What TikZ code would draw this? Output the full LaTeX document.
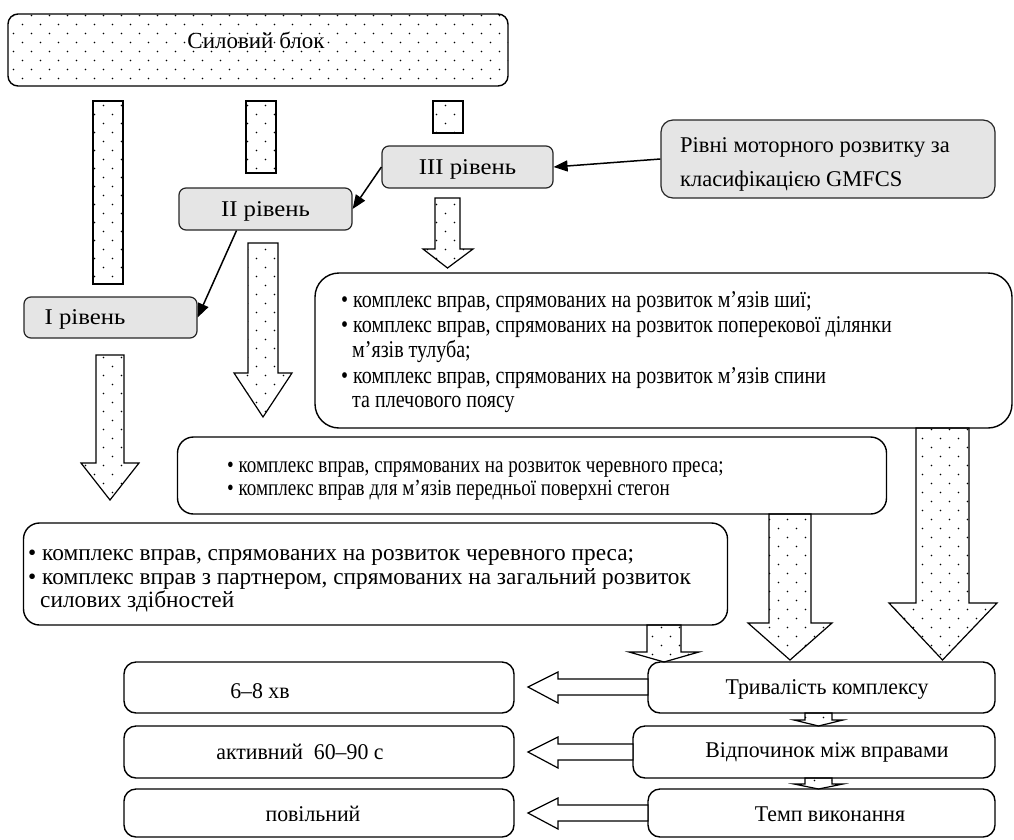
\documentclass[tikz,border=0pt]{standalone}
\usepackage{fontspec}
\setmainfont{Liberation Serif}
\newfontfamily\condfont[FakeStretch=0.83]{Liberation Serif}
\newfontfamily\condfontb[FakeStretch=0.835]{Liberation Serif}
\newfontfamily\midfont[FakeStretch=0.97]{Liberation Serif}
\newfontfamily\widefont[FakeStretch=1.1]{Liberation Serif}
\usetikzlibrary{patterns,arrows.meta}
\pgfdeclarepatternformonly{dotgrid}{\pgfpoint{-1pt}{-1pt}}{\pgfpoint{19pt}{19pt}}{\pgfpoint{18pt}{18pt}}{%
 \pgfpathcircle{\pgfpoint{4.5pt}{4.5pt}}{0.85pt}%
 \pgfpathcircle{\pgfpoint{13.5pt}{13.5pt}}{0.85pt}%
 \pgfusepath{fill}}
\newcommand\dnarrow[7]{% xl xr ytop yhs hl hr ytip
 \draw[dotfill] (#1,#3) -- (#2,#3) -- (#2,#4) -- (#6,#4) -- ({(#1+#2)/2},#7) -- (#5,#4) -- (#1,#4) -- cycle;}
\newcommand\lfarrow[7]{% xr xhs ytop ybot ht hb xtip
 \draw[hollow] (#1,#3) -- (#2,#3) -- (#2,#5) -- (#7,{(#3+#4)/2}) -- (#2,#6) -- (#2,#4) -- (#1,#4) -- cycle;}
\begin{document}
\begin{tikzpicture}[x=1pt,y=-1pt,
 box/.style={draw, line width=1.4pt, rounded corners=12pt, inner sep=0pt},
 lvl/.style={draw=black!85, line width=1.2pt, fill=black!10, rounded corners=7pt, inner sep=0pt},
 dotfill/.style={draw, line width=1.2pt, pattern=dotgrid},
 hollow/.style={draw, line width=1.2pt, fill=white},
 thin/.style={line width=1.5pt, -{Triangle[length=14pt,width=11pt]}},
 txt/.style={inner sep=0pt, font=\fontsize{23}{26}\selectfont},
 ctxt/.style={inner sep=0pt, anchor=base west, font=\fontsize{23}{26}\condfont},
 dtxt/.style={inner sep=0pt, anchor=base west, font=\fontsize{24}{26}\condfontb},
 ntxt/.style={inner sep=0pt, anchor=base west, font=\fontsize{23.3}{26}\selectfont},
 gtxt/.style={inner sep=0pt, anchor=base west, font=\fontsize{22.5}{26}\selectfont},
 btxt/.style={inner sep=0pt, font=\fontsize{22.5}{26}\midfont},
 ltxt/.style={inner sep=0pt, font=\fontsize{22.5}{26}\widefont}]
\useasboundingbox (0,0) rectangle (1014,839);
% top block
\node[box, rounded corners=10pt, pattern=dotgrid, minimum width=500pt, minimum height=72pt] (top) at (258,50) {};
\node[txt] (toptxt) at (256,40) {Силовий блок};
% stripes
\draw[dotfill] (93,101) rectangle (123,284);
\draw[dotfill] (246,101) rectangle (276,173);
\draw[dotfill] (433,101) rectangle (463,133);
% level boxes
\node[lvl, minimum width=171pt, minimum height=42pt] (l3) at (467.5,167) {};
\node[ltxt] (l3t) at (467.5,169) {III рівень};
\node[lvl, minimum width=173pt, minimum height=42pt] (l2) at (265.5,209) {};
\node[ltxt] (l2t) at (265.5,211) {II рівень};
\node[lvl, minimum width=173pt, minimum height=41pt] (l1) at (110.5,317.5) {};
\node[ltxt] (l1t) at (85,319.5) {I рівень};
\node[lvl, rounded corners=12pt, minimum width=334pt, minimum height=78pt] (gm) at (828,159) {};
\node[gtxt] (gmt1) at (680,152) {Рівні моторного розвитку за};
\node[gtxt] (gmt2) at (680,186) {класифікацією GMFCS};
% thin arrows
\draw[thin] (gm.west) -- (l3.east);
\draw[thin] (l3.west) -- (l2.east);
\draw[thin] ([xshift=-29pt]l2.south) -- (l1.east);
% block arrows from levels
\dnarrow{96}{124}{355}{463}{81}{139}{500}
\dnarrow{248}{278}{243}{373}{234}{292}{417}
\dnarrow{435}{460}{198}{249}{423}{473}{268}
% text box 3
\node[box, rounded corners=24pt, minimum width=697pt, minimum height=155pt] (b3) at (663.5,350.5) {};
\node[dtxt] (b3a) at (341,307) {• комплекс вправ, спрямованих на розвиток м’язів шиї;};
\node[dtxt] (b3b) at (341,332) {• комплекс вправ, спрямованих на розвиток поперекової ділянки};
\node[dtxt] (b3c) at (352,357) {м’язів тулуба;};
\node[dtxt] (b3d) at (341,383) {• комплекс вправ, спрямованих на розвиток м’язів спини};
\node[dtxt] (b3e) at (352,407) {та плечового поясу};
% text box 2
\node[box, rounded corners=16pt, minimum width=709pt, minimum height=77pt] (b2) at (532,475.5) {};
\node[ctxt] (b2a) at (227,472) {• комплекс вправ, спрямованих на розвиток черевного преса;};
\node[ctxt] (b2b) at (227,495) {• комплекс вправ для м’язів передньої поверхні стегон};
% text box 1
\node[box, rounded corners=16pt, minimum width=704pt, minimum height=102pt] (b1) at (375.5,574) {};
\node[ntxt] (b1a) at (28,560) {• комплекс вправ, спрямованих на розвиток черевного преса;};
\node[ntxt] (b1b) at (28,584) {• комплекс вправ з партнером, спрямованих на загальний розвиток};
\node[ntxt] (b1c) at (40,607) {силових здібностей};
% arrows into bottom
\dnarrow{647}{681}{625}{652}{629}{699}{662}
\dnarrow{769}{811}{514}{623}{748}{832}{660}
\dnarrow{916}{969}{428}{603}{889}{997}{660}
% bottom right boxes
\node[box, minimum width=347pt, minimum height=51pt] (r1) at (821.5,687.5) {};
\node[btxt] (r1t) at (827,689) {Тривалість комплексу};
\node[box, minimum width=362pt, minimum height=52pt] (r2) at (814,752) {};
\node[btxt] (r2t) at (827,752) {Відпочинок між вправами};
\node[box, minimum width=347pt, minimum height=48pt] (r3) at (821.5,813) {};
\node[btxt] (r3t) at (830,814) {Темп виконання};
% bottom left boxes
\node[box, minimum width=390pt, minimum height=51pt] (q1) at (319,687.5) {};
\node[btxt] (q1t) at (260,691) {6–8 хв};
\node[box, minimum width=390pt, minimum height=52pt] (q2) at (319,752) {};
\node[btxt] (q2t) at (300,752) {активний\ \ 60–90 с};
\node[box, minimum width=390pt, minimum height=48pt] (q3) at (319,813) {};
\node[btxt] (q3t) at (313,814) {повільний};
% small arrows between right boxes
\dnarrow{805}{832}{713}{720}{794}{843}{726}
\dnarrow{805}{832}{778}{784}{794}{843}{789}
% hollow left arrows
\lfarrow{648}{558}{679}{695}{672}{703}{528}
\lfarrow{633}{558}{744}{760}{737}{768}{528}
\lfarrow{648}{558}{805}{821}{798}{829}{528}
\end{tikzpicture}
\end{document}
